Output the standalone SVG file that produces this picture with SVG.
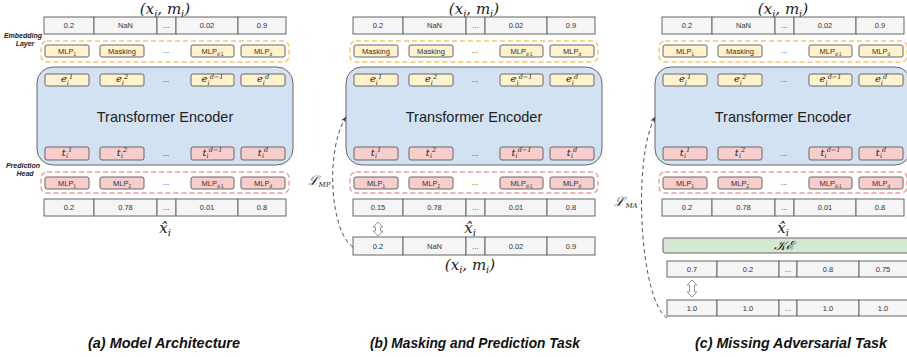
<svg xmlns="http://www.w3.org/2000/svg" width="907" height="357" viewBox="0 0 907 357">
<defs>
<style>
.cell{fill:#f5f5f5;stroke:#666;stroke-width:1}
.yb{fill:#fff2cc;stroke:#666;stroke-width:1}
.pb{fill:#f8cecc;stroke:#666;stroke-width:1}
.enc{fill:#d2e2f2;stroke:#666;stroke-width:1}
.ke{fill:#d5e8d4;stroke:#666;stroke-width:1}
.dy{fill:none;stroke:#f6c567;stroke-width:1.4;stroke-dasharray:5 3}
.dp{fill:none;stroke:#ec9c9c;stroke-width:1.4;stroke-dasharray:5 3}
.t{font-family:"Liberation Sans",Arial,sans-serif;font-size:7.5px;fill:#333;text-anchor:middle}
.s{font-size:4.5px}
.m{font-family:"DejaVu Serif","Liberation Serif",serif;font-style:italic;fill:#222;text-anchor:middle}
.me{font-size:10px}
.sup{font-size:6.5px}
.bs{font-size:10px}
.big{font-size:15px}
.lab{font-family:"Liberation Sans",Arial,sans-serif;font-size:7px;font-weight:bold;font-style:italic;fill:#222;text-anchor:middle}
.te{font-family:"Liberation Sans",Arial,sans-serif;font-size:14.5px;fill:#222;text-anchor:middle}
.cap{font-family:"Liberation Sans Narrow","Liberation Sans",Arial,sans-serif;font-size:15px;font-weight:bold;font-style:italic;fill:#111;text-anchor:middle}
.dots{font-family:"Liberation Sans",Arial,sans-serif;font-size:8px;fill:#333;text-anchor:middle}
.conn{fill:none;stroke:#555;stroke-width:1;stroke-dasharray:4 3}
.darr{fill:#fff;stroke:#999;stroke-width:1}
</style>
<marker id="ah" viewBox="0 0 10 10" refX="9" refY="5" markerWidth="6" markerHeight="6" orient="auto" markerUnits="userSpaceOnUse">
<path d="M0,1 L10,5 L0,9 L3,5 Z" fill="#444"/>
</marker>
</defs>
<rect width="907" height="357" fill="#fff"/>

<!-- ================= Panel (a) ================= -->
<g id="panel-a">
<text class="m big" x="165" y="14">(x<tspan class="bs" dy="3">i</tspan><tspan dy="-3">, m</tspan><tspan class="bs" dy="3">i</tspan><tspan dy="-3">)</tspan></text>
<g id="a-input">
<rect class="cell" x="44" y="17" width="50" height="17"/><rect class="cell" x="94" y="17" width="63" height="17"/><rect class="cell" x="157" y="17" width="19" height="17"/><rect class="cell" x="176" y="17" width="62" height="17"/><rect class="cell" x="238" y="17" width="48" height="17"/>
<text class="t" x="69" y="28">0.2</text><text class="t" x="125.5" y="28">NaN</text><text class="t" x="166.5" y="28">...</text><text class="t" x="207" y="28">0.02</text><text class="t" x="262" y="28">0.9</text>
</g>
<g id="a-embedding">
<text class="lab" x="23" y="38">Embedding</text><text class="lab" x="25" y="46">Layer</text>
<rect class="dy" x="41" y="41" width="248" height="21" rx="6"/>
<rect class="yb" x="45" y="45" width="44" height="12" rx="2"/><text class="t" x="67" y="53.5">MLP<tspan class="s" dy="2">1</tspan></text>
<rect class="yb" x="100" y="45" width="44" height="12" rx="2"/><text class="t" x="122" y="53.5">Masking</text>
<text class="dots" x="166" y="53">...</text>
<rect class="yb" x="191" y="45" width="43" height="12" rx="2"/><text class="t" x="212.5" y="53.5">MLP<tspan class="s" dy="2">d-1</tspan></text>
<rect class="yb" x="241" y="45" width="44" height="12" rx="2"/><text class="t" x="263" y="53.5">MLP<tspan class="s" dy="2">d</tspan></text>
</g>
<g id="a-encoder">
<rect class="enc" x="37" y="67" width="256" height="98" rx="16"/>
<rect class="yb" x="45" y="74" width="44" height="12" rx="2"/><text class="m me" x="67" y="82">e<tspan class="sup" dy="2.5">i</tspan><tspan class="sup" dy="-6">1</tspan></text>
<rect class="yb" x="100" y="74" width="44" height="12" rx="2"/><text class="m me" x="122" y="82">e<tspan class="sup" dy="2.5">i</tspan><tspan class="sup" dy="-6">2</tspan></text>
<text class="dots" x="166" y="82">...</text>
<rect class="yb" x="191" y="74" width="43" height="12" rx="2"/><text class="m me" x="212.5" y="82">e<tspan class="sup" dy="2.5">i</tspan><tspan class="sup" dy="-6">d−1</tspan></text>
<rect class="yb" x="241" y="74" width="44" height="12" rx="2"/><text class="m me" x="263" y="82">e<tspan class="sup" dy="2.5">i</tspan><tspan class="sup" dy="-6">d</tspan></text>
<text class="te" x="165" y="122">Transformer Encoder</text>
<rect class="pb" x="45" y="147" width="44" height="13" rx="2"/><text class="m me" x="67" y="155.5">t<tspan class="sup" dy="2.5">i</tspan><tspan class="sup" dy="-6">1</tspan></text>
<rect class="pb" x="100" y="147" width="44" height="13" rx="2"/><text class="m me" x="122" y="155.5">t<tspan class="sup" dy="2.5">i</tspan><tspan class="sup" dy="-6">2</tspan></text>
<text class="dots" x="166" y="156">...</text>
<rect class="pb" x="191" y="147" width="43" height="13" rx="2"/><text class="m me" x="212.5" y="155.5">t<tspan class="sup" dy="2.5">i</tspan><tspan class="sup" dy="-6">d−1</tspan></text>
<rect class="pb" x="241" y="147" width="44" height="13" rx="2"/><text class="m me" x="263" y="155.5">t<tspan class="sup" dy="2.5">i</tspan><tspan class="sup" dy="-6">d</tspan></text>
</g>
<g id="a-prediction">
<text class="lab" x="23" y="168">Prediction</text><text class="lab" x="25" y="176">Head</text>
<rect class="dp" x="41" y="172" width="248" height="21" rx="6"/>
<rect class="pb" x="45" y="177" width="44" height="12" rx="2"/><text class="t" x="67" y="185.5">MLP<tspan class="s" dy="2">1</tspan></text>
<rect class="pb" x="100" y="177" width="44" height="12" rx="2"/><text class="t" x="122" y="185.5">MLP<tspan class="s" dy="2">2</tspan></text>
<text class="dots" x="166" y="185">...</text>
<rect class="pb" x="191" y="177" width="43" height="12" rx="2"/><text class="t" x="212.5" y="185.5">MLP<tspan class="s" dy="2">d-1</tspan></text>
<rect class="pb" x="241" y="177" width="44" height="12" rx="2"/><text class="t" x="263" y="185.5">MLP<tspan class="s" dy="2">d</tspan></text>
</g>
<g id="a-output">
<rect class="cell" x="44" y="199" width="50" height="17"/><rect class="cell" x="94" y="199" width="63" height="17"/><rect class="cell" x="157" y="199" width="19" height="17"/><rect class="cell" x="176" y="199" width="62" height="17"/><rect class="cell" x="238" y="199" width="48" height="17"/>
<text class="t" x="69" y="210">0.2</text><text class="t" x="125.5" y="210">0.78</text><text class="t" x="166.5" y="210">...</text><text class="t" x="207" y="210">0.01</text><text class="t" x="262" y="210">0.8</text>
<text class="m big" x="165" y="233">x̂<tspan class="bs" dy="3">i</tspan></text>
</g>
<text class="cap" x="164" y="348" textLength="152" lengthAdjust="spacingAndGlyphs">(a) Model Architecture</text>
</g>

<!-- ================= Panel (b) ================= -->
<g id="panel-b" transform="translate(309,0)">
<text class="m big" x="165" y="14">(x<tspan class="bs" dy="3">i</tspan><tspan dy="-3">, m</tspan><tspan class="bs" dy="3">i</tspan><tspan dy="-3">)</tspan></text>
<g id="b-input">
<rect class="cell" x="44" y="17" width="50" height="17"/><rect class="cell" x="94" y="17" width="63" height="17"/><rect class="cell" x="157" y="17" width="19" height="17"/><rect class="cell" x="176" y="17" width="62" height="17"/><rect class="cell" x="238" y="17" width="48" height="17"/>
<text class="t" x="69" y="28">0.2</text><text class="t" x="125.5" y="28">NaN</text><text class="t" x="166.5" y="28">...</text><text class="t" x="207" y="28">0.02</text><text class="t" x="262" y="28">0.9</text>
</g>
<g id="b-embedding">
<rect class="dy" x="41" y="41" width="248" height="21" rx="6"/>
<rect class="yb" x="45" y="45" width="44" height="12" rx="2"/><text class="t" x="67" y="53.5">Masking</text>
<rect class="yb" x="100" y="45" width="44" height="12" rx="2"/><text class="t" x="122" y="53.5">Masking</text>
<text class="dots" x="166" y="53">...</text>
<rect class="yb" x="191" y="45" width="43" height="12" rx="2"/><text class="t" x="212.5" y="53.5">MLP<tspan class="s" dy="2">d-1</tspan></text>
<rect class="yb" x="241" y="45" width="44" height="12" rx="2"/><text class="t" x="263" y="53.5">MLP<tspan class="s" dy="2">d</tspan></text>
</g>
<g id="b-encoder">
<rect class="enc" x="37" y="67" width="256" height="98" rx="16"/>
<rect class="yb" x="45" y="74" width="44" height="12" rx="2"/><text class="m me" x="67" y="82">e<tspan class="sup" dy="2.5">i</tspan><tspan class="sup" dy="-6">1</tspan></text>
<rect class="yb" x="100" y="74" width="44" height="12" rx="2"/><text class="m me" x="122" y="82">e<tspan class="sup" dy="2.5">i</tspan><tspan class="sup" dy="-6">2</tspan></text>
<text class="dots" x="166" y="82">...</text>
<rect class="yb" x="191" y="74" width="43" height="12" rx="2"/><text class="m me" x="212.5" y="82">e<tspan class="sup" dy="2.5">i</tspan><tspan class="sup" dy="-6">d−1</tspan></text>
<rect class="yb" x="241" y="74" width="44" height="12" rx="2"/><text class="m me" x="263" y="82">e<tspan class="sup" dy="2.5">i</tspan><tspan class="sup" dy="-6">d</tspan></text>
<text class="te" x="165" y="122">Transformer Encoder</text>
<rect class="pb" x="45" y="147" width="44" height="13" rx="2"/><text class="m me" x="67" y="155.5">t<tspan class="sup" dy="2.5">i</tspan><tspan class="sup" dy="-6">1</tspan></text>
<rect class="pb" x="100" y="147" width="44" height="13" rx="2"/><text class="m me" x="122" y="155.5">t<tspan class="sup" dy="2.5">i</tspan><tspan class="sup" dy="-6">2</tspan></text>
<text class="dots" x="166" y="156">...</text>
<rect class="pb" x="191" y="147" width="43" height="13" rx="2"/><text class="m me" x="212.5" y="155.5">t<tspan class="sup" dy="2.5">i</tspan><tspan class="sup" dy="-6">d−1</tspan></text>
<rect class="pb" x="241" y="147" width="44" height="13" rx="2"/><text class="m me" x="263" y="155.5">t<tspan class="sup" dy="2.5">i</tspan><tspan class="sup" dy="-6">d</tspan></text>
</g>
<g id="b-prediction">
<rect class="dp" x="41" y="172" width="248" height="21" rx="6"/>
<rect class="pb" x="45" y="177" width="44" height="12" rx="2"/><text class="t" x="67" y="185.5">MLP<tspan class="s" dy="2">1</tspan></text>
<rect class="pb" x="100" y="177" width="44" height="12" rx="2"/><text class="t" x="122" y="185.5">MLP<tspan class="s" dy="2">2</tspan></text>
<text class="dots" x="166" y="185">...</text>
<rect class="pb" x="191" y="177" width="43" height="12" rx="2"/><text class="t" x="212.5" y="185.5">MLP<tspan class="s" dy="2">d-1</tspan></text>
<rect class="pb" x="241" y="177" width="44" height="12" rx="2"/><text class="t" x="263" y="185.5">MLP<tspan class="s" dy="2">d</tspan></text>
</g>
<g id="b-output">
<rect class="cell" x="44" y="199" width="50" height="17"/><rect class="cell" x="94" y="199" width="63" height="17"/><rect class="cell" x="157" y="199" width="19" height="17"/><rect class="cell" x="176" y="199" width="62" height="17"/><rect class="cell" x="238" y="199" width="48" height="17"/>
<text class="t" x="69" y="210">0.15</text><text class="t" x="125.5" y="210">0.78</text><text class="t" x="166.5" y="210">...</text><text class="t" x="207" y="210">0.01</text><text class="t" x="262" y="210">0.8</text>
<text class="m big" x="161" y="233">x̂<tspan class="bs" dy="3">i</tspan></text>
</g>
<g id="b-target">
<rect class="cell" x="44" y="237" width="50" height="18"/><rect class="cell" x="94" y="237" width="63" height="18"/><rect class="cell" x="157" y="237" width="19" height="18"/><rect class="cell" x="176" y="237" width="62" height="18"/><rect class="cell" x="238" y="237" width="48" height="18"/>
<text class="t" x="69" y="248.5">0.2</text><text class="t" x="125.5" y="248.5">NaN</text><text class="t" x="166.5" y="248.5">...</text><text class="t" x="207" y="248.5">0.02</text><text class="t" x="262" y="248.5">0.9</text>
<text class="m big" x="161" y="270">(x<tspan class="bs" dy="3">i</tspan><tspan dy="-3">, m</tspan><tspan class="bs" dy="3">i</tspan><tspan dy="-3">)</tspan></text>
</g>
<text class="cap" x="166" y="348" textLength="210" lengthAdjust="spacingAndGlyphs">(b) Masking and Prediction Task</text>
</g>

<!-- ================= Panel (c) ================= -->
<g id="panel-c" transform="translate(618,0)">
<text class="m big" x="165" y="14">(x<tspan class="bs" dy="3">i</tspan><tspan dy="-3">, m</tspan><tspan class="bs" dy="3">i</tspan><tspan dy="-3">)</tspan></text>
<g id="c-input">
<rect class="cell" x="44" y="17" width="50" height="17"/><rect class="cell" x="94" y="17" width="63" height="17"/><rect class="cell" x="157" y="17" width="19" height="17"/><rect class="cell" x="176" y="17" width="62" height="17"/><rect class="cell" x="238" y="17" width="48" height="17"/>
<text class="t" x="69" y="28">0.2</text><text class="t" x="125.5" y="28">NaN</text><text class="t" x="166.5" y="28">...</text><text class="t" x="207" y="28">0.02</text><text class="t" x="262" y="28">0.9</text>
</g>
<g id="c-embedding">
<rect class="dy" x="41" y="41" width="248" height="21" rx="6"/>
<rect class="yb" x="45" y="45" width="44" height="12" rx="2"/><text class="t" x="67" y="53.5">MLP<tspan class="s" dy="2">1</tspan></text>
<rect class="yb" x="100" y="45" width="44" height="12" rx="2"/><text class="t" x="122" y="53.5">Masking</text>
<text class="dots" x="166" y="53">...</text>
<rect class="yb" x="191" y="45" width="43" height="12" rx="2"/><text class="t" x="212.5" y="53.5">MLP<tspan class="s" dy="2">d-1</tspan></text>
<rect class="yb" x="241" y="45" width="44" height="12" rx="2"/><text class="t" x="263" y="53.5">MLP<tspan class="s" dy="2">d</tspan></text>
</g>
<g id="c-encoder">
<rect class="enc" x="37" y="67" width="256" height="98" rx="16"/>
<rect class="yb" x="45" y="74" width="44" height="12" rx="2"/><text class="m me" x="67" y="82">e<tspan class="sup" dy="2.5">i</tspan><tspan class="sup" dy="-6">1</tspan></text>
<rect class="yb" x="100" y="74" width="44" height="12" rx="2"/><text class="m me" x="122" y="82">e<tspan class="sup" dy="2.5">i</tspan><tspan class="sup" dy="-6">2</tspan></text>
<text class="dots" x="166" y="82">...</text>
<rect class="yb" x="191" y="74" width="43" height="12" rx="2"/><text class="m me" x="212.5" y="82">e<tspan class="sup" dy="2.5">i</tspan><tspan class="sup" dy="-6">d−1</tspan></text>
<rect class="yb" x="241" y="74" width="44" height="12" rx="2"/><text class="m me" x="263" y="82">e<tspan class="sup" dy="2.5">i</tspan><tspan class="sup" dy="-6">d</tspan></text>
<text class="te" x="165" y="122">Transformer Encoder</text>
<rect class="pb" x="45" y="147" width="44" height="13" rx="2"/><text class="m me" x="67" y="155.5">t<tspan class="sup" dy="2.5">i</tspan><tspan class="sup" dy="-6">1</tspan></text>
<rect class="pb" x="100" y="147" width="44" height="13" rx="2"/><text class="m me" x="122" y="155.5">t<tspan class="sup" dy="2.5">i</tspan><tspan class="sup" dy="-6">2</tspan></text>
<text class="dots" x="166" y="156">...</text>
<rect class="pb" x="191" y="147" width="43" height="13" rx="2"/><text class="m me" x="212.5" y="155.5">t<tspan class="sup" dy="2.5">i</tspan><tspan class="sup" dy="-6">d−1</tspan></text>
<rect class="pb" x="241" y="147" width="44" height="13" rx="2"/><text class="m me" x="263" y="155.5">t<tspan class="sup" dy="2.5">i</tspan><tspan class="sup" dy="-6">d</tspan></text>
</g>
<g id="c-prediction">
<rect class="dp" x="41" y="172" width="248" height="21" rx="6"/>
<rect class="pb" x="45" y="177" width="44" height="12" rx="2"/><text class="t" x="67" y="185.5">MLP<tspan class="s" dy="2">1</tspan></text>
<rect class="pb" x="100" y="177" width="44" height="12" rx="2"/><text class="t" x="122" y="185.5">MLP<tspan class="s" dy="2">2</tspan></text>
<text class="dots" x="166" y="185">...</text>
<rect class="pb" x="191" y="177" width="43" height="12" rx="2"/><text class="t" x="212.5" y="185.5">MLP<tspan class="s" dy="2">d-1</tspan></text>
<rect class="pb" x="241" y="177" width="44" height="12" rx="2"/><text class="t" x="263" y="185.5">MLP<tspan class="s" dy="2">d</tspan></text>
</g>
<g id="c-output">
<rect class="cell" x="44" y="199" width="50" height="17"/><rect class="cell" x="94" y="199" width="63" height="17"/><rect class="cell" x="157" y="199" width="19" height="17"/><rect class="cell" x="176" y="199" width="62" height="17"/><rect class="cell" x="238" y="199" width="48" height="17"/>
<text class="t" x="69" y="210">0.2</text><text class="t" x="125.5" y="210">0.78</text><text class="t" x="166.5" y="210">...</text><text class="t" x="207" y="210">0.01</text><text class="t" x="262" y="210">0.8</text>
<text class="m big" x="165" y="233">x̂<tspan class="bs" dy="3">i</tspan></text>
</g>
<g id="c-ke">
<rect class="ke" x="45" y="238" width="250" height="15" rx="2"/>
<text class="m" x="165" y="250" style="font-size:13px">𝒦ℰ</text>
</g>
<g id="c-disc">
<rect class="cell" x="49" y="261" width="50" height="16"/><rect class="cell" x="99" y="261" width="62" height="16"/><rect class="cell" x="161" y="261" width="18" height="16"/><rect class="cell" x="179" y="261" width="62" height="16"/><rect class="cell" x="241" y="261" width="52" height="16"/>
<text class="t" x="74" y="271.5">0.7</text><text class="t" x="130" y="271.5">0.2</text><text class="t" x="170" y="271.5">...</text><text class="t" x="210" y="271.5">0.8</text><text class="t" x="265" y="271.5">0.75</text>
</g>
<g id="c-target">
<rect class="cell" x="49" y="300" width="50" height="16"/><rect class="cell" x="99" y="300" width="62" height="16"/><rect class="cell" x="161" y="300" width="18" height="16"/><rect class="cell" x="179" y="300" width="62" height="16"/><rect class="cell" x="241" y="300" width="52" height="16"/>
<text class="t" x="74" y="310.5">1.0</text><text class="t" x="130" y="310.5">1.0</text><text class="t" x="170" y="310.5">...</text><text class="t" x="210" y="310.5">1.0</text><text class="t" x="265" y="310.5">1.0</text>
</g>
<text class="cap" x="173" y="348" textLength="192" lengthAdjust="spacingAndGlyphs">(c) Missing Adversarial Task</text>
</g>

<!-- ================= Connectors ================= -->
<g id="connectors">
<path class="conn" d="M353,247 C330,232 325,150 346,117" marker-end="url(#ah)"/>
<path class="conn" d="M667,318 C640,300 632,160 655,117" marker-end="url(#ah)"/>
<path class="darr" d="M378,222 L383,227 L380.5,227 L380.5,231 L383,231 L378,236 L373,231 L375.5,231 L375.5,227 L373,227 Z"/>
<path class="darr" d="M692,280 L697,285 L694.5,285 L694.5,292 L697,292 L692,297 L687,292 L689.5,292 L689.5,285 L687,285 Z"/>
<text class="m" x="319" y="185" style="font-size:13px">ℒ<tspan style="font-size:7px" dy="2">MP</tspan></text>
<text class="m" x="626" y="206" style="font-size:13px">ℒ<tspan style="font-size:7px" dy="2">MA</tspan></text>
</g>
</svg>
